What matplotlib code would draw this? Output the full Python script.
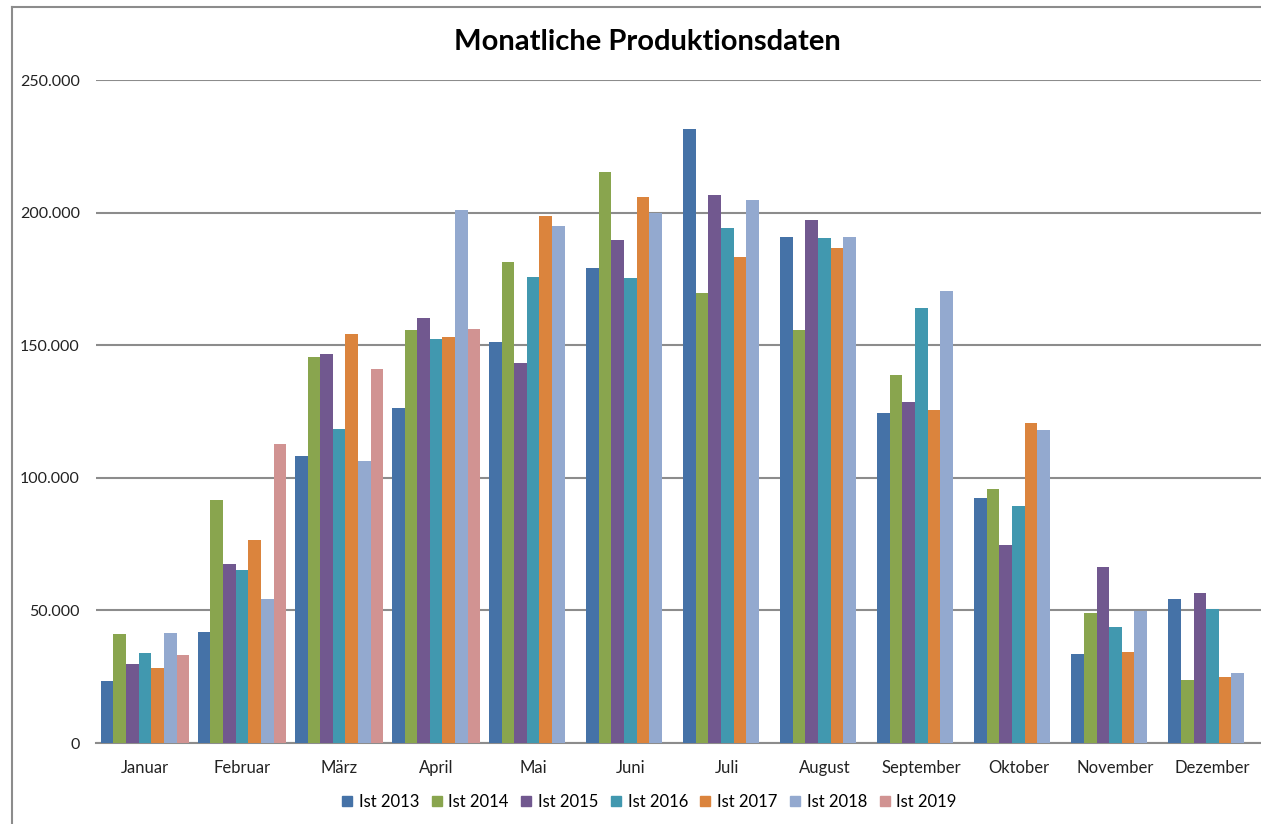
import numpy as np
import matplotlib
matplotlib.use('Agg')
import matplotlib.pyplot as plt
from matplotlib.lines import Line2D
from matplotlib.ticker import FuncFormatter

plt.rcParams['font.family'] = ['Lato', 'DejaVu Sans']

# Monate und Jahresreihen
monate = ['Januar', 'Februar', 'März', 'April', 'Mai', 'Juni', 'Juli',
          'August', 'September', 'Oktober', 'November', 'Dezember']
jahre = ['Ist 2013', 'Ist 2014', 'Ist 2015', 'Ist 2016', 'Ist 2017', 'Ist 2018', 'Ist 2019']
nan = np.nan
ist_2013 = [23400, 42000, 108200, 126300, 151200, 179300, 231400, 190800, 124600, 92200, 33400, 54200]
ist_2014 = [41200, 91600, 145500, 155700, 181400, 215500, 169600, 155700, 138700, 95600, 49100, 23600]
ist_2015 = [29700, 67400, 146700, 160400, 143300, 189600, 206500, 197200, 128400, 74700, 66400, 56700]
ist_2016 = [34000, 65100, 118300, 152500, 175700, 175500, 194300, 190300, 164000, 89400, 43900, 50400]
ist_2017 = [28200, 76400, 154200, 153100, 198700, 206000, 183400, 186800, 125400, 120600, 34400, 24900]
ist_2018 = [41600, 54400, 106300, 201000, 195000, 199700, 204800, 190800, 170600, 117900, 49900, 26500]
ist_2019 = [33100, 112600, 141000, 156000, nan, nan, nan, nan, nan, nan, nan, nan]
reihen = [ist_2013, ist_2014, ist_2015, ist_2016, ist_2017, ist_2018, ist_2019]
farben = ['#4572A7', '#89A54E', '#71588F', '#4198AF', '#DB843D', '#93A9CF', '#D19392']

fig = plt.figure(figsize=(12.61, 8.24), dpi=100)
ax = fig.add_axes([0.0765, 0.0983, 0.9235, 0.8046])

x = np.arange(len(monate))
breite = 0.13
for i, (werte, farbe, name) in enumerate(zip(reihen, farben, jahre)):
    ax.bar(x + (i - 3) * breite, werte, breite, color=farbe, label=name, zorder=3)

ax.set_xlim(-0.5, 11.5)
ax.set_ylim(0, 250000)
ax.set_yticks(range(0, 250001, 50000))
ax.yaxis.set_major_formatter(FuncFormatter(lambda v, p: f'{int(v):,}'.replace(',', '.')))
ax.grid(axis='y', color='#8c8c8c', linewidth=1.5, zorder=0)
ax.set_xticks(x)
ax.set_xticklabels(monate)
for s in ['top', 'right', 'left']:
    ax.spines[s].set_visible(False)
ax.spines['bottom'].set_color('#8c8c8c')
ax.spines['bottom'].set_linewidth(1.5)
ax.tick_params(axis='both', length=0, labelsize=12, colors='#222222')
ax.tick_params(axis='y', pad=12, labelsize=11.5)
ax.tick_params(axis='x', pad=12)

fig.text(0.513, 0.949, 'Monatliche Produktionsdaten', ha='center', va='center',
         fontsize=21, fontweight='bold', color='black')

handles = [plt.Rectangle((0, 0), 1, 1, color=f) for f in farben]
fig.legend(handles, jahre, loc='center', bbox_to_anchor=(0.515, 0.027), ncol=7,
           frameon=False, fontsize=12, handlelength=0.6, handleheight=0.6,
           handletextpad=0.4, columnspacing=0.75)

# Rahmen links und oben
fig.add_artist(Line2D([0.0095, 0.0095], [0, 0.9915], color='#8c8c8c', linewidth=1.5,
                      transform=fig.transFigure))
fig.add_artist(Line2D([0.0095, 1], [0.9915, 0.9915], color='#8c8c8c', linewidth=1.5,
                      transform=fig.transFigure))

fig.savefig('out.png', dpi=100)
